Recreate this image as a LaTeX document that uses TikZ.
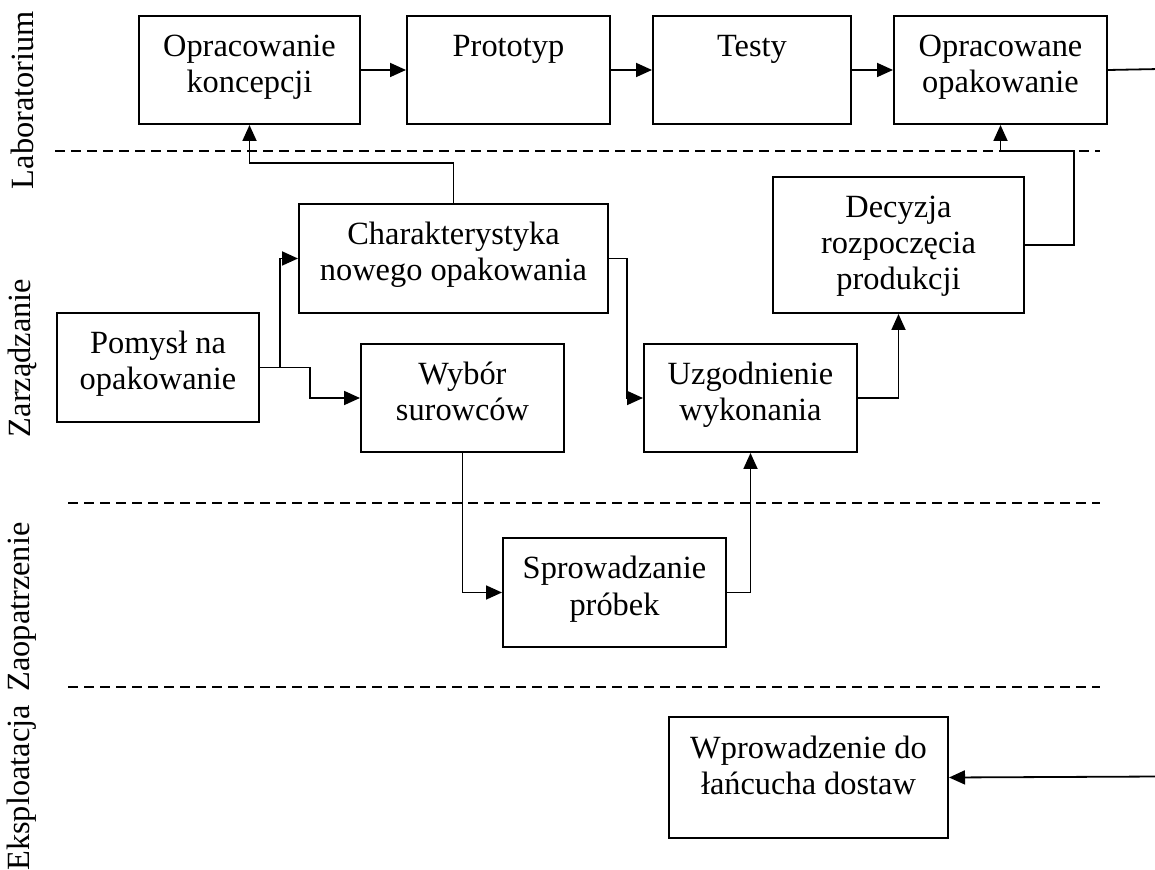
\documentclass[tikz,border=0pt]{standalone}
\usepackage{fontspec}
\setmainfont{Liberation Serif}
\usetikzlibrary{arrows.meta}

\newcommand{\boxtext}[3]{\parbox[c][#2][t]{#1}{\centering\rule{0pt}{20.5pt}#3\par}}

\begin{document}
\begin{tikzpicture}[x=0.5pt, y=-0.5pt,
stagebox/.style={draw, line width=1pt, inner sep=0pt, anchor=north west, font=\fontsize{16.2}{18}\selectfont},
lanelabel/.style={rotate=90, inner sep=0pt, font=\fontsize{16.2}{18}\selectfont},
lanesep/.style={dash pattern=on 5pt off 3pt, line width=0.6pt},
flow/.style={-{Triangle[length=8pt, width=7pt]}, line width=0.9pt},
]
\useasboundingbox (0,0) rectangle (1155,870);

%Lanes
\node[lanelabel] (lab)  at (22,100) {Laboratorium};
\node[lanelabel] (zarz) at (22,358) {Zarządzanie};
\node[lanelabel] (zaop) at (22,607) {Zaopatrzenie};
\node[lanelabel] (eksp) at (22,788) {Eksploatacja};

\draw[lanesep] (55,151) -- (1100,151);
\draw[lanesep] (68,503) -- (1100,503);
\draw[lanesep] (68,687) -- (1100,687);

%Nodes
\node[stagebox] (koncepcja)   at (138,15)  {\boxtext{110.5pt}{54pt}{Opracowanie\\koncepcji}};
\node[stagebox] (prototyp)    at (406,15)  {\boxtext{101.5pt}{54pt}{Prototyp}};
\node[stagebox] (testy)       at (652,15)  {\boxtext{99pt}{54pt}{Testy}};
\node[stagebox] (gotowe)      at (893,15)  {\boxtext{106.5pt}{54pt}{Opracowane\\opakowanie}};
\node[stagebox] (cechy)       at (298,203) {\boxtext{154.5pt}{54.5pt}{Charakterystyka\\nowego opakowania}};
\node[stagebox] (decyzja)     at (772,176) {\boxtext{125.5pt}{68pt}{Decyzja\\rozpoczęcia\\produkcji}};
\node[stagebox] (pomysl)      at (56,312)  {\boxtext{101pt}{54.5pt}{Pomysł na\\opakowanie}};
\node[stagebox] (surowce)     at (360,343) {\boxtext{101.5pt}{54pt}{Wybór\\surowców}};
\node[stagebox] (uzgodnienie) at (643,343) {\boxtext{106.5pt}{54pt}{Uzgodnienie\\wykonania}};
\node[stagebox] (probki)      at (502,537) {\boxtext{111.5pt}{54.5pt}{Sprowadzanie\\próbek}};
\node[stagebox] (dostawy)     at (668,716) {\boxtext{139.5pt}{60.5pt}{Wprowadzenie do\\łańcucha dostaw}};

\coordinate (wyjscie) at (1160,69);
\coordinate (wejscie) at (1160,776.5);

%Lines
\draw[flow] (koncepcja) -- (prototyp);
\draw[flow] (prototyp) -- (testy);
\draw[flow] (testy) -- (gotowe);
\draw[line width=0.9pt] (gotowe.east) -- (wyjscie);
\draw[flow] (wejscie) -- (dostawy.east);
\draw[flow] (cechy.north) -- ++(0,-40) -| (koncepcja.south);
\draw[flow] (pomysl.east) -- ++(20,0) |- (cechy.west);
\draw[flow] (pomysl.east) -- ++(50,0) |- (surowce.west);
\draw[flow] (cechy.east) -- ++(18,0) |- (uzgodnienie.west);
\draw[flow] (surowce.south) |- (probki.west);
\draw[flow] (probki.east) -| (uzgodnienie.south);
\draw[flow] (uzgodnienie.east) -| (decyzja.south);
\draw[flow] (decyzja.east) -- ++(49,0) -- ++(0,-94) -| (gotowe.south);
\end{tikzpicture}
\end{document}
